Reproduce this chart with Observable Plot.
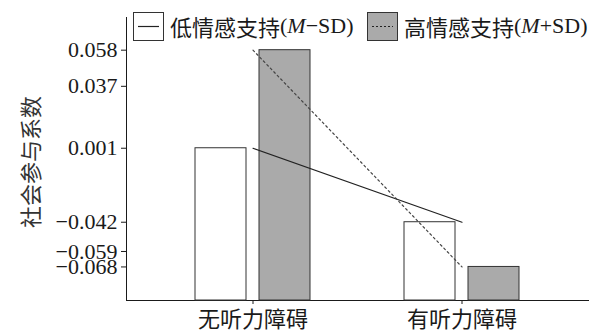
<!DOCTYPE html>
<html><head><meta charset="utf-8">
<script src="https://cdn.jsdelivr.net/npm/d3@7"></script>
<script src="https://cdn.jsdelivr.net/npm/@observablehq/plot@0.6"></script>
<style>
body{margin:0;background:#fff}
#wrap{position:relative;width:600px;height:332px;overflow:hidden}
.item{position:absolute;top:12px;height:28px;display:flex;align-items:center;font-size:22px;color:#1a1a1a;white-space:nowrap}
.item svg{display:block;margin-right:6px}
.cjk{font-family:"Noto Sans CJK SC",sans-serif}
.lat{font-family:"Liberation Serif",serif}
</style></head><body>
<div id="wrap"><div id="chart"></div>
<div class="item" id="leg0" style="left:133px"></div>
<div class="item" id="leg1" style="left:367px"></div>
</div>
<script>
const groups = ["无听力障碍", "有听力障碍"];
const seriesCJK = ["低情感支持", "高情感支持"];
const seriesLatin = ["−SD)", "+SD)"];
const lowSupport = [0.001, -0.042];
const highSupport = [0.058, -0.068];
const yTicks = [0.058, 0.037, 0.001, -0.042, -0.059, -0.068];
const yLabel = "社会参与系数";
const yDomain = [-0.0875, 0.077];

const lowData = groups.map((g, i) => ({group: g, value: lowSupport[i]}));
const highData = groups.map((g, i) => ({group: g, value: highSupport[i]}));

const chart = Plot.plot({
  width: 600, height: 332,
  marginLeft: 126, marginRight: 12, marginTop: 17, marginBottom: 32,
  style: {fontFamily: "'Liberation Serif','Noto Sans CJK SC',serif", fontSize: "22px", color: "#1a1a1a", background: "white"},
  x: {domain: groups, paddingInner: 0.4476, paddingOuter: 0.3238, tickSize: 4, tickPadding: 7, line: true, label: null},
  y: {domain: yDomain, ticks: yTicks, tickFormat: d => d.toFixed(3).replace("-", "−"), tickSize: 5, tickPadding: 4, line: true, label: null},
  marks: [
    Plot.barY(lowData, {x: "group", y1: yDomain[0], y2: "value", fill: "white", stroke: "#333", strokeWidth: 1, insetRight: 64}),
    Plot.barY(highData, {x: "group", y1: yDomain[0], y2: "value", fill: "#aaaaaa", stroke: "#333", strokeWidth: 1, insetLeft: 64}),
    Plot.line(lowData, {x: "group", y: "value", stroke: "#222", strokeWidth: 1.2}),
    Plot.line(highData, {x: "group", y: "value", stroke: "#444", strokeWidth: 1.2, strokeDasharray: "2,3"}),
    Plot.text([yLabel], {text: d => d, frameAnchor: "left", textAnchor: "middle", rotate: -90, dx: -95, dy: 3, fontFamily: "Noto Sans CJK SC", fontSize: 22, fill: "#333"})
  ]
});
document.getElementById("chart").appendChild(chart);

function swatch(i) {
  const fill = i === 0 ? "white" : "#aaaaaa";
  const dash = i === 0 ? "" : 'stroke-dasharray="2,2"';
  return `<svg width="31" height="29"><rect x="0.5" y="0.5" width="30" height="28" fill="${fill}" stroke="#333"/><line x1="5" x2="26" y1="14.5" y2="14.5" stroke="#222" stroke-width="1.2" ${dash}/></svg>`;
}
[0, 1].forEach(i => {
  document.getElementById("leg" + i).innerHTML =
    swatch(i) + `<span class="cjk">${seriesCJK[i]}</span><span class="lat">(<i>M</i>${seriesLatin[i]}</span>`;
});
</script>
</body></html>
